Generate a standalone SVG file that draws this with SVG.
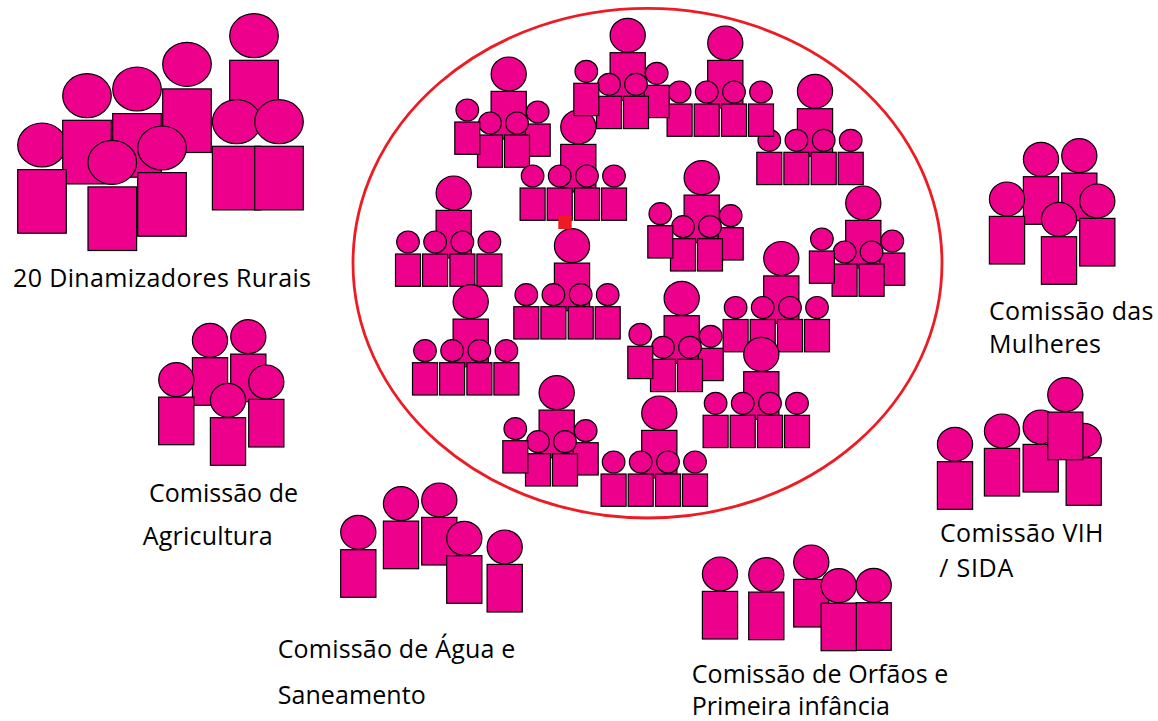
<svg xmlns="http://www.w3.org/2000/svg" width="1158" height="721" viewBox="0 0 1158 721">
<style>
.p{fill:#EC008C;stroke:#000;stroke-width:1.2}
.t{font-family:"Open Sans","Noto Sans","Liberation Sans",sans-serif;font-size:25px;fill:#000}
</style>
<defs>
<g id="k"><ellipse class="p" rx="11.3" ry="11"/><rect class="p" x="-12.5" y="12" width="25" height="32.3"/></g>
<g id="m"><ellipse class="p" rx="17.6" ry="17"/><rect class="p" x="-17.6" y="17.4" width="35.2" height="47.6"/></g>
<g id="b"><ellipse class="p" rx="24.3" ry="22"/><rect class="p" x="-24.3" y="24.6" width="48.6" height="63.6"/></g>
<g id="A"><use href="#m"/><use href="#k" x="-45.7" y="49"/><use href="#k" x="-18.6" y="49"/><use href="#k" x="8.7" y="49"/><use href="#k" x="35.7" y="49"/></g>
<g id="B"><use href="#m"/><use href="#k" x="29" y="38"/><use href="#k" x="-18.7" y="49"/><use href="#k" x="8.3" y="49"/><use href="#k" x="-41.4" y="36"/></g>
</defs>
<rect width="1158" height="721" fill="#fff"/>
<g id="rurais">
<use href="#b" x="254" y="35.7"/>
<use href="#b" x="187" y="64.3"/>
<use href="#b" x="137" y="89"/>
<ellipse class="p" cx="42" cy="145" rx="24.3" ry="22"/>
<use href="#b" x="87" y="95.7"/>
<rect class="p" x="17.7" y="169.6" width="48.6" height="63.6"/>
<use href="#b" x="236.7" y="121.7"/>
<use href="#b" x="279" y="121.7"/>
<use href="#b" x="162" y="148"/>
<use href="#b" x="112.3" y="162.3"/>
</g>
<ellipse id="circulo" cx="647.5" cy="263.2" rx="294.5" ry="254.8" fill="none" stroke="#ED1C24" stroke-width="2.8"/>
<g id="familias">
<use id="f1" href="#A" x="815" y="91.3"/>
<use id="f2" href="#A" x="725.3" y="43"/>
<use id="f3" href="#B" x="508.7" y="74"/>
<use id="f4" href="#A" x="578.3" y="127"/>
<use id="f5" href="#B" x="627.7" y="35.3"/>
<use id="f6" href="#A" x="453.7" y="193"/>
<use id="f7" href="#B" x="701.7" y="177.7"/>
<use id="f8" href="#B" x="863.3" y="203"/>
<use id="f9" href="#A" x="572" y="245.7"/>
<use id="f10" href="#A" x="781.3" y="258.5"/>
<use id="f11" href="#A" x="470.7" y="301.7"/>
<use id="f12" href="#B" x="681.7" y="298.3"/>
<use id="f13" href="#A" x="761.3" y="354.3"/>
<use id="f14" href="#B" x="556.7" y="392.7"/>
<use id="f15" href="#A" x="659.3" y="413"/>
</g>
<rect id="marca" x="558.3" y="215.7" width="13.4" height="13.3" fill="#ED1C24"/>
<g id="agricultura">
<use href="#m" x="248.3" y="336.7"/>
<use href="#m" x="210" y="340.3"/>
<use href="#m" x="176.3" y="379.7"/>
<use href="#m" x="266.3" y="382"/>
<use href="#m" x="228" y="400.3"/>
</g>
<g id="mulheres">
<use href="#m" x="1079.3" y="155.7"/>
<use href="#m" x="1041" y="159.3"/>
<use href="#m" x="1007" y="199"/>
<use href="#m" x="1097.3" y="201"/>
<use href="#m" x="1059" y="219.3"/>
</g>
<g id="vih">
<use href="#m" x="955" y="444.3"/>
<use href="#m" x="1002" y="431"/>
<use href="#m" x="1083.7" y="440.3"/>
<use href="#m" x="1040.7" y="427"/>
<use href="#m" x="1065.3" y="394.7"/>
</g>
<g id="agua">
<use href="#m" x="358.3" y="532.3"/>
<use href="#m" x="401" y="503.7"/>
<use href="#m" x="439.3" y="500"/>
<use href="#m" x="464.3" y="538.3"/>
<use href="#m" x="504.7" y="547"/>
</g>
<g id="orfaos">
<use href="#m" x="720" y="574"/>
<use href="#m" x="766.3" y="574.7"/>
<use href="#m" x="811.3" y="562"/>
<use href="#m" x="873.7" y="585.3"/>
<use href="#m" x="838.7" y="585.7"/>
</g>
<g id="textos">
<text class="t" x="13" y="287.3" textLength="298">20 Dinamizadores Rurais</text>
<text class="t" x="149" y="501.7" textLength="149">Comissão de</text>
<text class="t" x="142.7" y="545" textLength="130">Agricultura</text>
<text class="t" x="989" y="320" textLength="164.5">Comissão das</text>
<text class="t" x="989" y="353.3" textLength="112">Mulheres</text>
<text class="t" x="940" y="541.7" textLength="163.5">Comissão VIH</text>
<text class="t" x="939.3" y="577.3" textLength="74">/ SIDA</text>
<text class="t" x="277.7" y="657.7" textLength="237.5">Comissão de Água e</text>
<text class="t" x="277.7" y="704" textLength="148">Saneamento</text>
<text class="t" x="691.7" y="683.3" textLength="256.7">Comissão de Orfãos e</text>
<text class="t" x="691.7" y="714.5" textLength="198.3">Primeira infância</text>
</g>
</svg>
